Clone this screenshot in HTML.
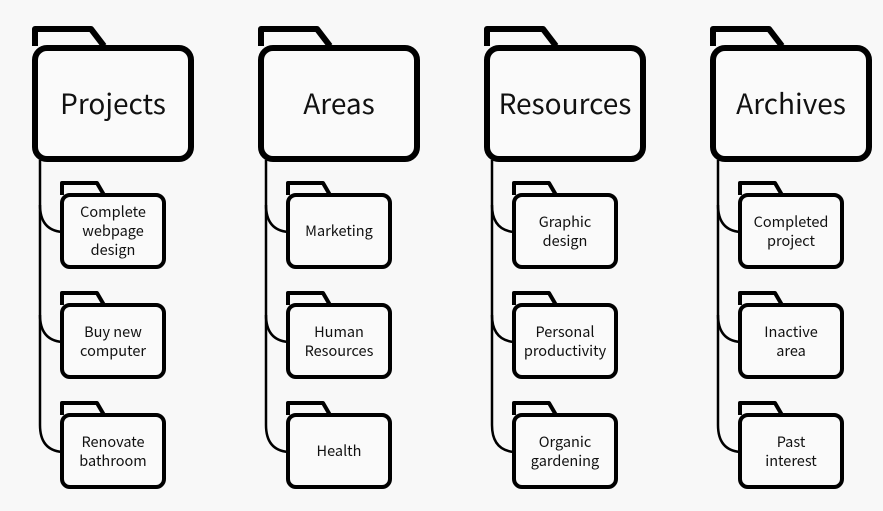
<!DOCTYPE html>
<html><head><meta charset="utf-8"><style>
html,body{margin:0;padding:0;background:#f8f8f8;}
svg{display:block;}
text{font-family:"Noto Sans CJK JP","Liberation Sans",sans-serif;fill:#111;text-anchor:middle;}
.big{font-size:28px;}
.sm{font-size:14.5px;}
</style></head><body>
<svg width="883" height="511" viewBox="0 0 883 511" xmlns="http://www.w3.org/2000/svg">
<defs>
<g id="col">
  <path d="M40,160 V425 Q40,450 62,452" fill="none" stroke="#000" stroke-width="2.5"/>
  <path d="M40,205 Q40,230 62,232" fill="none" stroke="#000" stroke-width="2.5"/>
  <path d="M40,315 Q40,340 62,342" fill="none" stroke="#000" stroke-width="2.5"/>
  <path d="M35,46 V29 H91 L104,46" fill="none" stroke="#000" stroke-width="6" stroke-linejoin="round"/>
  <rect x="35" y="48" width="156" height="111" rx="12" fill="#fafafa" stroke="#000" stroke-width="6"/>
  <g id="sf">
    <path d="M62,195 V183 H97 L104,195" fill="none" stroke="#000" stroke-width="4" stroke-linejoin="round"/>
    <rect x="62" y="195" width="102" height="72" rx="8" fill="#fafafa" stroke="#000" stroke-width="4"/>
  </g>
  <use href="#sf" y="110"/>
  <use href="#sf" y="220"/>
</g>
</defs>
<use href="#col" x="0"/>
<use href="#col" x="226"/>
<use href="#col" x="452"/>
<use href="#col" x="678"/>

<text class="big" x="113" y="114">Projects</text>
<text class="big" x="339" y="114">Areas</text>
<text class="big" x="565" y="114">Resources</text>
<text class="big" x="791" y="114">Archives</text>

<text class="sm" x="113" y="217">Complete</text>
<text class="sm" x="113" y="236">webpage</text>
<text class="sm" x="113" y="255">design</text>
<text class="sm" x="113" y="337">Buy new</text>
<text class="sm" x="113" y="356">computer</text>
<text class="sm" x="113" y="447">Renovate</text>
<text class="sm" x="113" y="466">bathroom</text>

<text class="sm" x="339" y="236">Marketing</text>
<text class="sm" x="339" y="337">Human</text>
<text class="sm" x="339" y="356">Resources</text>
<text class="sm" x="339" y="456">Health</text>

<text class="sm" x="565" y="227">Graphic</text>
<text class="sm" x="565" y="246">design</text>
<text class="sm" x="565" y="337">Personal</text>
<text class="sm" x="565" y="356">productivity</text>
<text class="sm" x="565" y="447">Organic</text>
<text class="sm" x="565" y="466">gardening</text>

<text class="sm" x="791" y="227">Completed</text>
<text class="sm" x="791" y="246">project</text>
<text class="sm" x="791" y="337">Inactive</text>
<text class="sm" x="791" y="356">area</text>
<text class="sm" x="791" y="447">Past</text>
<text class="sm" x="791" y="466">interest</text>
</svg>
</body></html>
